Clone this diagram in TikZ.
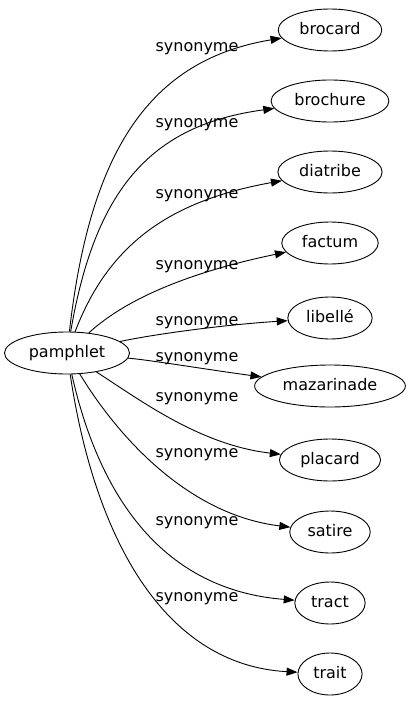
\documentclass[tikz,border=0pt]{standalone}
\usepackage{fontspec}
\setmainfont{DejaVu Sans}
\usetikzlibrary{arrows.meta,shapes.geometric}
\begin{document}
\begin{tikzpicture}[x=1pt,y=-1pt,
  word/.style={ellipse,draw,line width=0.9pt,font=\fontsize{16pt}{18pt}\selectfont,inner xsep=6pt,inner ysep=2pt,minimum height=42pt,text height=12pt,text depth=3.5pt},
  lab/.style={font=\fontsize{16pt}{18pt}\selectfont,inner sep=0pt,text height=12pt,text depth=3.5pt},
  syn/.style={line width=0.9pt,-{Triangle[length=11pt,width=8pt]}}]
\useasboundingbox (0,0) rectangle (409,707);
\node[word] (root) at (67,353) {pamphlet};
\node[word] (t1) at (330,30) {brocard};
\node[word] (t2) at (330,101) {brochure};
\node[word] (t3) at (330,172) {diatribe};
\node[word] (t4) at (330,243) {factum};
\node[word] (t5) at (330,318) {libellé};
\node[word] (t6) at (330,386) {mazarinade};
\node[word] (t7) at (330,460) {placard};
\node[word] (t8) at (330,532) {satire};
\node[word] (t9) at (330,603) {tract};
\node[word] (t10) at (330,674) {trait};
\node[lab] (l1) at (197,47) {synonyme};
\node[lab] (l2) at (197,123) {synonyme};
\node[lab] (l3) at (197,194) {synonyme};
\node[lab] (l4) at (197,265) {synonyme};
\node[lab] (l5) at (197,321) {synonyme};
\node[lab] (l6) at (197,357) {synonyme};
\node[lab] (l7) at (197,397) {synonyme};
\node[lab] (l8) at (197,453) {synonyme};
\node[lab] (l9) at (197,521) {synonyme};
\node[lab] (l10) at (197,597) {synonyme};
\draw[syn] (root) .. controls (90,150) and (150,60) .. (t1);
\draw[syn] (root) .. controls (95,190) and (150,125) .. (t2);
\draw[syn] (root) .. controls (110,240) and (175,200) .. (t3);
\draw[syn] (root) .. controls (130,295) and (200,270) .. (t4);
\draw[syn] (root) .. controls (150,335) and (220,325) .. (t5);
\draw[syn] (root) .. controls (150,360) and (210,370) .. (t6);
\draw[syn] (root) .. controls (140,400) and (200,445) .. (t7);
\draw[syn] (root) .. controls (120,440) and (190,515) .. (t8);
\draw[syn] (root) .. controls (100,500) and (165,590) .. (t9);
\draw[syn] (root) .. controls (95,540) and (165,665) .. (t10);
\end{tikzpicture}
\end{document}
